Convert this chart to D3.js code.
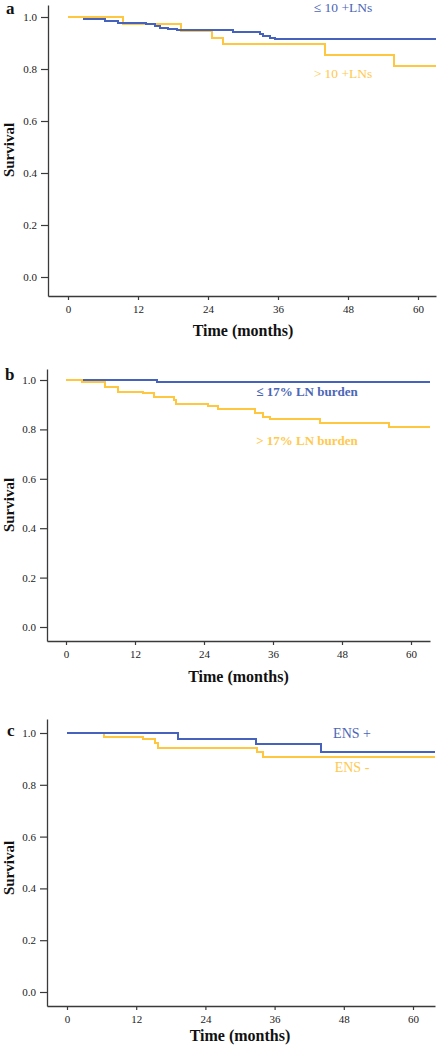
<!DOCTYPE html>
<html>
<head>
<meta charset="utf-8">
<script src="https://cdn.jsdelivr.net/npm/d3@7"></script>
<style>
  html, body { margin: 0; padding: 0; background: #fff; }
  svg { display: block; }
  text { font-family: "Liberation Serif", "Times New Roman", serif; }
</style>
</head>
<body>
<svg id="chart" width="437" height="1050"></svg>
<script>
// ---------- DATA ----------
const xTicks = [0, 12, 24, 36, 48, 60];
const yTicks = [0, 0.2, 0.4, 0.6, 0.8, 1.0];
const xTitle = "Time (months)";
const yTitle = "Survival";
const panelLetters = ["a", "b", "c"];

// Panel a
const aLowLabel = "\u2264 10 +LNs";
const aLowTimes = [2.6, 6.3, 8.6, 13.4, 14.9, 15.8, 17.2, 18.6, 28.3, 32.9, 33.5, 34.6, 35.5];
const aLowSurv  = [0.994, 0.986, 0.976, 0.972, 0.967, 0.959, 0.954, 0.949, 0.941, 0.935, 0.928, 0.921, 0.915];
const aHighLabel = "> 10 +LNs";
const aHighTimes = [0, 9.4, 19.3, 24.6, 26.5, 44.1, 55.8];
const aHighSurv  = [1.0, 0.974, 0.947, 0.921, 0.895, 0.853, 0.810];

// Panel b
const bLowLabel = "\u2264 17% LN burden";
const bLowTimes = [2.9, 15.8];
const bLowSurv  = [1.0, 0.992];
const bHighLabel = "> 17% LN burden";
const bHighTimes = [0, 2.7, 6.8, 9.1, 13.4, 15.3, 18.7, 19.2, 24.7, 26.5, 32.9, 34.3, 35.5, 44.2, 56.1];
const bHighSurv  = [1.0, 0.991, 0.973, 0.953, 0.946, 0.932, 0.919, 0.903, 0.895, 0.881, 0.865, 0.851, 0.841, 0.827, 0.811];

// Panel c
const cPosLabel = "ENS +";
const cPosTimes = [0, 19.2, 32.7, 44.1];
const cPosSurv  = [1.0, 0.976, 0.956, 0.928];
const cNegLabel = "ENS -";
const cNegTimes = [0, 6.5, 13.2, 15.2, 15.8, 32.9, 34.0];
const cNegSurv  = [1.0, 0.986, 0.976, 0.960, 0.941, 0.925, 0.908];

// ---------- STYLE / LAYOUT ----------
const BLUE = "#4563bd";
const YELLOW = "#ffc73f";
const BLUE_TXT = "#4b66b6";
const YELLOW_TXT = "#ffc94d";
const AXIS = "#3a3a3a";

const svg = d3.select("#chart");

const panels = [
  {
    letter: panelLetters[0], letterPos: [6, 14],
    x: { d: [0, 60], r: [68, 418], left: 48, right: 436 },
    y: { d: [0, 1], r: [277, 17], top: 5, bottom: 296 },
    xTitleY: 336, yTitleY: 150,
    series: [
      { t: aHighTimes, s: aHighSurv, color: YELLOW },
      { t: aLowTimes, s: aLowSurv, color: BLUE }
    ],
    labels: [
      { text: aLowLabel, x: 343, y: 12, color: BLUE_TXT, bold: false, size: 13.5 },
      { text: aHighLabel, x: 343, y: 78, color: YELLOW_TXT, bold: false, size: 13.5 }
    ]
  },
  {
    letter: panelLetters[1], letterPos: [5, 380],
    x: { d: [0, 60], r: [66, 411], left: 47, right: 430 },
    y: { d: [0, 1], r: [627, 380], top: 369, bottom: 641 },
    xTitleY: 682, yTitleY: 505,
    series: [
      { t: bHighTimes, s: bHighSurv, color: YELLOW },
      { t: bLowTimes, s: bLowSurv, color: BLUE }
    ],
    labels: [
      { text: bLowLabel, x: 307, y: 396, color: BLUE_TXT, bold: true, size: 13 },
      { text: bHighLabel, x: 307, y: 445, color: YELLOW_TXT, bold: true, size: 13 }
    ]
  },
  {
    letter: panelLetters[2], letterPos: [7, 736],
    x: { d: [0, 60], r: [67, 413], left: 47, right: 435 },
    y: { d: [0, 1], r: [992, 733], top: 719, bottom: 1006 },
    xTitleY: 1041, yTitleY: 868,
    series: [
      { t: cNegTimes, s: cNegSurv, color: YELLOW },
      { t: cPosTimes, s: cPosSurv, color: BLUE }
    ],
    labels: [
      { text: cPosLabel, x: 352, y: 738, color: BLUE_TXT, bold: false, size: 14 },
      { text: cNegLabel, x: 352, y: 772, color: YELLOW_TXT, bold: false, size: 14 }
    ]
  }
];

panels.forEach(p => {
  const x0 = d3.scaleLinear().domain(p.x.d).range(p.x.r);
  const y0 = d3.scaleLinear().domain(p.y.d).range(p.y.r);
  const x = d3.scaleLinear()
    .domain([x0.invert(p.x.left), x0.invert(p.x.right)])
    .range([p.x.left, p.x.right]);
  const y = d3.scaleLinear()
    .domain([y0.invert(p.y.bottom), y0.invert(p.y.top)])
    .range([p.y.bottom, p.y.top]);

  const g = svg.append("g");

  const line = d3.line().x(d => x(d[0])).y(d => y(d[1])).curve(d3.curveStepAfter);
  const tEnd = x.domain()[1];
  p.series.forEach(sr => {
    const pts = sr.t.map((t, i) => [t, sr.s[i]]);
    pts.push([tEnd, sr.s[sr.s.length - 1]]);
    g.append("path")
      .attr("d", line(pts))
      .attr("fill", "none")
      .attr("stroke", sr.color)
      .attr("stroke-width", 2)
      .attr("shape-rendering", "crispEdges");
  });

  const yAx = g.append("g")
    .attr("transform", `translate(${p.x.left},0)`)
    .call(d3.axisLeft(y).tickValues(yTicks).tickFormat(d3.format(".1f")).tickSize(7).tickSizeOuter(0).tickPadding(4));
  const xAx = g.append("g")
    .attr("transform", `translate(0,${p.y.bottom})`)
    .call(d3.axisBottom(x).tickValues(xTicks).tickSize(4).tickSizeOuter(0).tickPadding(5));

  [yAx, xAx].forEach(ax => {
    ax.select(".domain").attr("stroke", AXIS).attr("stroke-width", 1.3);
    ax.selectAll(".tick line").attr("stroke", AXIS).attr("stroke-width", 1.2);
    ax.selectAll(".tick text")
      .attr("fill", "#222")
      .style("font-family", '"Liberation Serif", serif')
      .style("font-size", "11px");
  });

  g.append("text")
    .attr("x", (x(0) + x(60)) / 2)
    .attr("y", p.xTitleY)
    .attr("text-anchor", "middle")
    .attr("font-weight", "bold")
    .attr("font-size", 16)
    .attr("fill", "#111")
    .text(xTitle);

  g.append("text")
    .attr("transform", `translate(14,${p.yTitleY}) rotate(-90)`)
    .attr("text-anchor", "middle")
    .attr("font-weight", "bold")
    .attr("font-size", 15)
    .attr("fill", "#111")
    .text(yTitle);

  g.append("text")
    .attr("x", p.letterPos[0])
    .attr("y", p.letterPos[1])
    .attr("font-weight", "bold")
    .attr("font-size", 17)
    .attr("fill", "#111")
    .text(p.letter);

  p.labels.forEach(l => {
    g.append("text")
      .attr("x", l.x)
      .attr("y", l.y)
      .attr("text-anchor", "middle")
      .attr("font-weight", l.bold ? "bold" : "normal")
      .attr("font-size", l.size)
      .attr("fill", l.color)
      .text(l.text);
  });
});
</script>
</body>
</html>
